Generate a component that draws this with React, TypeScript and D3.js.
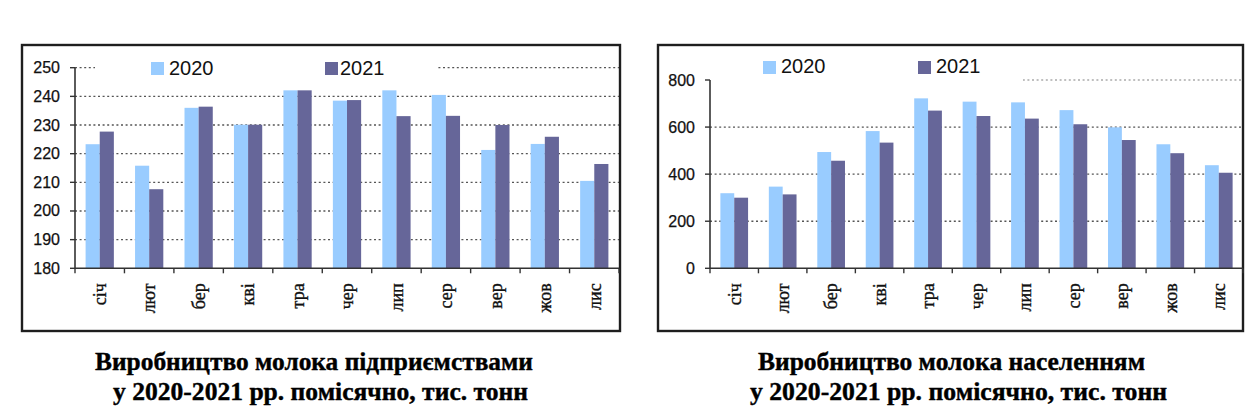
import React from "react";
import * as d3 from "d3";

const months = ["січ", "лют", "бер", "кві", "тра", "чер", "лип", "сер", "вер", "жов", "лис"];
const seriesNames = ["2020", "2021"];
const enterprises2020 = [223.3, 215.8, 236.0, 230.1, 242.1, 238.5, 242.1, 240.5, 221.3, 223.4, 210.5];
const enterprises2021 = [227.7, 207.6, 236.4, 230.1, 242.1, 238.7, 233.1, 233.2, 230.0, 225.9, 216.4];
const households2020 = [319, 347, 494, 583, 722, 708, 705, 672, 599, 527, 438];
const households2021 = [300, 314, 457, 534, 670, 647, 636, 612, 545, 489, 406];
const enterpriseTicks = [180, 190, 200, 210, 220, 230, 240, 250];
const householdTicks = [0, 200, 400, 600, 800];
const enterpriseTitle = ["Виробництво молока підприємствами", "у 2020-2021 рр. помісячно, тис. тонн"];
const householdTitle = ["Виробництво молока населенням", "у 2020-2021 рр. помісячно, тис. тонн"];
const colors = ["#99CCFF", "#666699"];

type Props = {
  frame: { x: number; y: number; w: number; h: number };
  plot: { left: number; right: number; top: number; bottom: number };
  ticks: number[];
  series: number[][];
  legendBox: { x0: number; x1: number; y0: number; y1: number };
  legendItems: { sx: number; sy: number; tx: number; ty: number }[];
  topGridColor: string;
  title: string[];
  titlePos: { x: number; y: number; len: number }[];
};

function BarPanel(p: Props) {
  const x0 = d3.scaleBand<string>().domain(months).range([p.plot.left, p.plot.right]).paddingInner(0).paddingOuter(0);
  const W = x0.bandwidth();
  const groupW = W / 1.75;
  const x1 = d3.scaleBand<string>().domain(seriesNames).range([(W - groupW) / 2, (W + groupW) / 2]);
  const y = d3
    .scaleLinear()
    .domain([p.ticks[0], p.ticks[p.ticks.length - 1]])
    .range([p.plot.bottom, p.plot.top]);
  const tickFont = "'Liberation Sans', Arial, sans-serif";
  const serif = "'Liberation Serif', 'Times New Roman', serif";
  const boundaries = months.map((m) => x0(m) as number).concat([p.plot.right]);
  return (
    <g>
      <rect x={p.frame.x} y={p.frame.y} width={p.frame.w} height={p.frame.h} fill="#fff" stroke="#1e1e1e" strokeWidth={2.4} />
      {p.ticks.slice(1).map((t, i) => (
        <line
          key={"g" + t}
          x1={p.plot.left}
          x2={p.plot.right}
          y1={y(t)}
          y2={y(t)}
          stroke={i === p.ticks.length - 2 ? p.topGridColor : "#555"}
          strokeWidth={1.3}
          strokeDasharray="2,2.6"
        />
      ))}
      <rect
        x={p.legendBox.x0}
        y={p.legendBox.y0}
        width={p.legendBox.x1 - p.legendBox.x0}
        height={p.legendBox.y1 - p.legendBox.y0}
        fill="#fff"
      />
      {seriesNames.map((s, i) => (
        <g key={"l" + s}>
          <rect x={p.legendItems[i].sx} y={p.legendItems[i].sy} width={13} height={13} fill={colors[i]} />
          <text x={p.legendItems[i].tx} y={p.legendItems[i].ty} fontFamily={tickFont} fontSize={20} fill="#111">
            {s}
          </text>
        </g>
      ))}
      {months.map((m, mi) => (
        <g key={"b" + m} transform={`translate(${x0(m)},0)`}>
          {seriesNames.map((s, si) => (
            <rect
              key={s}
              x={x1(s)}
              y={y(p.series[si][mi])}
              width={x1.bandwidth()}
              height={p.plot.bottom - y(p.series[si][mi])}
              fill={colors[si]}
            />
          ))}
        </g>
      ))}
      <line x1={p.plot.left} x2={p.plot.left} y1={p.plot.top} y2={p.plot.bottom} stroke="#333" strokeWidth={1.6} />
      <line x1={p.plot.left} x2={p.plot.right} y1={p.plot.bottom} y2={p.plot.bottom} stroke="#333" strokeWidth={1.6} />
      {p.ticks.map((t) => (
        <g key={"t" + t}>
          <line x1={p.plot.left - 5} x2={p.plot.left} y1={y(t)} y2={y(t)} stroke="#333" strokeWidth={1.4} />
          <text
            x={p.plot.left - 15}
            y={y(t)}
            textAnchor="end"
            dominantBaseline="central"
            fontFamily={tickFont}
            fontSize={16}
            fill="#111"
            stroke="#111"
            strokeWidth={0.25}
          >
            {t}
          </text>
        </g>
      ))}
      {boundaries.map((bx, i) => (
        <line key={"xt" + i} x1={bx} x2={bx} y1={p.plot.bottom} y2={p.plot.bottom + 5} stroke="#333" strokeWidth={1.4} />
      ))}
      {months.map((m) => (
        <text
          key={"c" + m}
          transform={`translate(${(x0(m) as number) + W / 2},${p.plot.bottom + 15}) rotate(-90)`}
          textAnchor="end"
          dy="0.35em"
          fontFamily={serif}
          fontSize={18}
          fill="#111"
          stroke="#111"
          strokeWidth={0.35}
        >
          {m}
        </text>
      ))}
      {p.title.map((line, i) => (
        <text
          key={"ti" + i}
          x={p.titlePos[i].x}
          y={p.titlePos[i].y}
          textLength={p.titlePos[i].len}
          lengthAdjust="spacingAndGlyphs"
          fontFamily={serif}
          fontWeight="bold"
          fontSize={25}
          fill="#000"
          stroke="#000"
          strokeWidth={0.4}
        >
          {line}
        </text>
      ))}
    </g>
  );
}

export default function App() {
  return (
    <svg
      width={1260}
      height={417}
      viewBox="0 0 1260 417"
      style={{ position: "absolute", left: 0, top: 0, background: "#fff" }}
    >
      <rect x={0} y={0} width={1260} height={417} fill="#fff" />
      <BarPanel
        frame={{ x: 22, y: 45, w: 598, h: 286 }}
        plot={{ left: 75, right: 619, top: 67.7, bottom: 268.3 }}
        ticks={enterpriseTicks}
        series={[enterprises2020, enterprises2021]}
        legendBox={{ x0: 95, x1: 436, y0: 54, y1: 80 }}
        legendItems={[
          { sx: 151, sy: 62, tx: 169, ty: 75 },
          { sx: 325, sy: 62, tx: 340, ty: 75 },
        ]}
        topGridColor="#555"
        title={enterpriseTitle}
        titlePos={[
          { x: 95, y: 370, len: 438 },
          { x: 113, y: 400, len: 415 },
        ]}
      />
      <BarPanel
        frame={{ x: 658, y: 45, w: 585, h: 286 }}
        plot={{ left: 710, right: 1243, top: 80, bottom: 268.3 }}
        ticks={householdTicks}
        series={[households2020, households2021]}
        legendBox={{ x0: 708, x1: 1023, y0: 54, y1: 85 }}
        legendItems={[
          { sx: 763, sy: 61, tx: 781, ty: 73 },
          { sx: 918, sy: 61, tx: 936, ty: 73 },
        ]}
        topGridColor="#aaa"
        title={householdTitle}
        titlePos={[
          { x: 758, y: 370, len: 387 },
          { x: 750, y: 400, len: 417 },
        ]}
      />
    </svg>
  );
}
